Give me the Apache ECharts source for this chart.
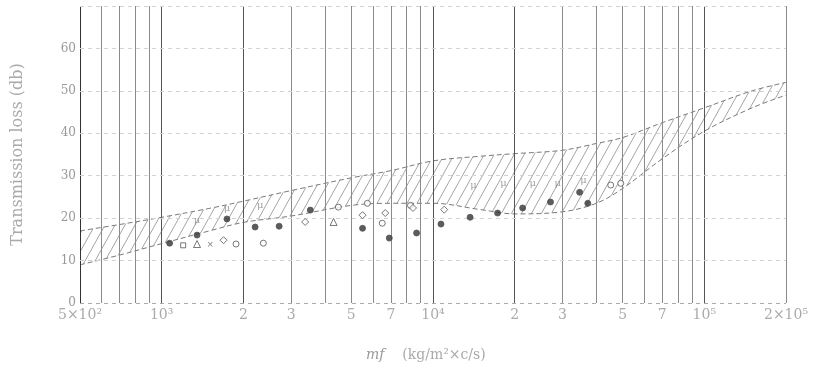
<!DOCTYPE html>
<html>
<head>
<meta charset="utf-8">
<script src="https://cdn.jsdelivr.net/npm/echarts@6/dist/echarts.min.js"></script>
<style>
  html, body { margin: 0; padding: 0; background: #fff; }
  #main { width: 819px; height: 369px; }
</style>
</head>
<body>
<div id="main"></div>
<script>
// band of measured values (kg/m2 x c/s -> db)
const bandX = [500, 700, 1000, 1500, 2000, 3000, 5000, 7000, 10000, 15000, 20000, 30000, 40000, 50000, 70000, 100000, 150000, 200000];
const bandUpper = [17, 18.5, 20.2, 22.3, 24, 26.5, 29.5, 31.2, 33.5, 34.6, 35.2, 36, 37.6, 39, 42.5, 46, 50, 52];
const bandLower = [9, 11.3, 14, 17, 19, 20.5, 23, 23.5, 23.5, 22, 21, 21.5, 23.5, 27, 34, 40.5, 46, 49];

// measured points
const dotPts = [[1070, 14.1], [1350, 16], [1740, 19.8], [2210, 17.9], [2710, 18.1], [3530, 21.9], [5500, 17.6], [6900, 15.3], [8700, 16.5], [10700, 18.6], [13700, 20.2], [17300, 21.2], [21400, 22.4], [27100, 23.8], [34700, 26.1], [37200, 23.5]];
const circlePts = [[1880, 13.9], [2370, 14.1], [4480, 22.6], [5730, 23.5], [8260, 23], [6500, 18.8], [45200, 27.8], [49200, 28.2]];
const diamondPts = [[1690, 14.8], [3380, 19.1], [5500, 20.7], [6670, 21.2], [8440, 22.4], [11000, 22]];
const trianglePts = [[1350, 13.9], [4300, 19.1]];
const squarePts = [[1200, 13.6]];
const crossPts = [[1510, 13.6]];
const muPts = [[1350, 19.5], [1740, 22.4], [2310, 23], [14100, 27.8], [18200, 28.2], [23300, 28.2], [28800, 28.2], [35900, 28.9]];

// vertical rulings, horizontal rulings and x tick labels
const gridValues = [500, 600, 700, 800, 900, 1000, 2000, 3000, 4000, 5000, 6000, 7000, 8000, 9000, 10000, 20000, 30000, 40000, 50000, 60000, 70000, 80000, 90000, 100000, 200000];
const majorValues = [500, 1000, 2000, 10000, 20000, 100000];
const tickValues = [500, 1000, 2000, 3000, 5000, 7000, 10000, 20000, 30000, 50000, 70000, 100000, 200000];
const tickLabels = ['5×10²', '10³', '2', '3', '5', '7', '10⁴', '2', '3', '5', '7', '10⁵', '2×10⁵'];
const hValues = [0, 10, 20, 30, 40, 50, 60, 70];
const yMax = 70;

const serif = 'DejaVu Serif, Liberation Serif, serif';

// hatch pattern for the band
function hatch() {
    const c = document.createElement('canvas');
    c.width = 10; c.height = 18;
    const ctx = c.getContext('2d');
    ctx.fillStyle = '#fff';
    ctx.fillRect(0, 0, 10, 18);
    ctx.strokeStyle = '#9a9a9a';
    ctx.lineWidth = 0.9;
    [-10, 0, 10].forEach(function (dx) {
        ctx.beginPath();
        ctx.moveTo(dx, 18);
        ctx.lineTo(dx + 10, 0);
        ctx.stroke();
    });
    return c;
}

const myChart = echarts.init(document.getElementById('main'));

const vRulings = gridValues.map(function (v) {
    const i = tickValues.indexOf(v);
    const major = majorValues.indexOf(v) >= 0;
    return [
        {
            coord: [v, 0],
            lineStyle: {color: v === 500 ? '#333' : (major ? '#555' : '#8a8a8a'), width: 1, type: 'solid'},
            label: i >= 0 ? {show: true, formatter: tickLabels[i]} : {show: false}
        },
        {coord: [v, yMax]}
    ];
});
const hRulings = hValues.map(function (h) {
    return [
        {coord: [500, h], lineStyle: {color: h === 0 ? '#aaa' : '#d2d2d2', width: 1, type: [4, 4]}, label: {show: false}},
        {coord: [200000, h]}
    ];
});

const dashed = {color: '#7a7a7a', width: 1, type: [5, 3]};

function pts(name, arr, symbol, size, color) {
    return {
        name: name, type: 'scatter', data: arr, symbol: symbol, symbolSize: size,
        itemStyle: {color: color, borderColor: '#555', borderWidth: 1}, z: 8
    };
}

option = {
    animation: false,
    grid: {left: 80, right: 33, top: 6, bottom: 66},
    xAxis: {
        type: 'log', logBase: 10, min: 500, max: 200000,
        axisLine: {show: false},
        axisTick: {show: false}, axisLabel: {show: false},
        splitLine: {show: false}
    },
    yAxis: {
        type: 'value', min: 0, max: yMax, interval: 10,
        name: 'Transmission loss (db)', nameLocation: 'middle', nameGap: 54,
        nameTextStyle: {fontFamily: serif, fontSize: 16, color: '#aaa'},
        axisLine: {show: false},
        axisTick: {show: false},
        axisLabel: {
            fontFamily: serif, fontSize: 12, color: '#999', margin: 4,
            formatter: function (v) { return v === yMax ? '' : v; }
        },
        splitLine: {show: false}
    },
    graphic: [{
        type: 'text', left: 366, top: 348,
        style: {
            text: '{i|mf}    (kg/m²×c/s)',
            rich: {i: {fontStyle: 'italic', fontFamily: serif, fontSize: 14, fill: '#999'}},
            font: '14px ' + serif, fill: '#aaa'
        }
    }],
    series: [
        {
            name: 'upper', type: 'line', smooth: 0.35, symbol: 'none',
            data: bandX.map(function (x, i) { return [x, bandUpper[i]]; }),
            lineStyle: dashed,
            areaStyle: {color: {image: hatch(), repeat: 'repeat'}, opacity: 1, origin: 'start'},
            z: 2
        },
        {
            name: 'lower', type: 'line', smooth: 0.35, symbol: 'none',
            data: bandX.map(function (x, i) { return [x, bandLower[i]]; }),
            lineStyle: dashed,
            areaStyle: {color: '#fff', opacity: 1, origin: 'start'},
            z: 3
        },
        {
            name: 'rulings', type: 'line', data: [], symbol: 'none', z: 5,
            markLine: {
                silent: true, symbol: 'none', animation: false, z: 5,
                label: {position: 'start', distance: 5, fontFamily: serif, fontSize: 14, color: '#aaa'},
                data: vRulings.concat(hRulings)
            }
        },
        pts('dot', dotPts, 'circle', 6, '#333'),
        pts('circle', circlePts, 'circle', 6, '#fff'),
        pts('diamond', diamondPts, 'diamond', 7, '#fff'),
        pts('triangle', trianglePts, 'triangle', 7, '#fff'),
        pts('square', squarePts, 'rect', 5, '#fff'),
        {
            name: 'cross', type: 'scatter', data: crossPts, symbolSize: 0, z: 8,
            label: {show: true, position: 'inside', formatter: '×', fontSize: 11, color: '#666'}
        },
        {
            name: 'mu', type: 'scatter', data: muPts, symbolSize: 0, z: 8,
            label: {show: true, position: 'inside', formatter: 'μ', fontFamily: serif, fontSize: 10, color: '#888'}
        }
    ]
};

myChart.setOption(option);
</script>
</body>
</html>
